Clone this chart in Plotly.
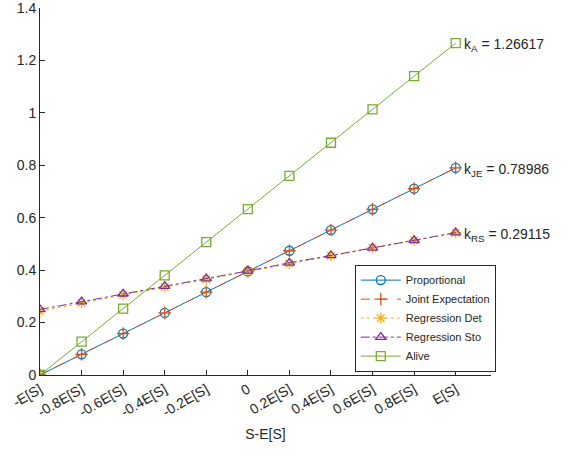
import plotly.graph_objects as go

# x positions (multiples of E[S]) and tick labels
x_vals = [-1.0, -0.8, -0.6, -0.4, -0.2, 0.0, 0.2, 0.4, 0.6, 0.8, 1.0]
tick_labels = ['-E[S]', '-0.8E[S]', '-0.6E[S]', '-0.4E[S]', '-0.2E[S]', '0',
               '0.2E[S]', '0.4E[S]', '0.6E[S]', '0.8E[S]', 'E[S]']

# series values
proportional = [0.0, 0.079, 0.158, 0.237, 0.316, 0.395, 0.474, 0.553, 0.632, 0.711, 0.790]
joint_expectation = [0.0, 0.079, 0.158, 0.237, 0.316, 0.395, 0.474, 0.553, 0.632, 0.711, 0.790]
regression_det = [0.243, 0.275, 0.305, 0.335, 0.365, 0.395, 0.425, 0.455, 0.485, 0.514, 0.543]
regression_sto = [0.250, 0.280, 0.310, 0.339, 0.368, 0.397, 0.428, 0.456, 0.485, 0.514, 0.543]
alive = [0.0, 0.127, 0.253, 0.380, 0.507, 0.633, 0.760, 0.886, 1.013, 1.140, 1.266]

y_ticks = [0, 0.2, 0.4, 0.6, 0.8, 1.0, 1.2, 1.4]
y_tick_labels = ['0', '0.2', '0.4', '0.6', '0.8', '1', '1.2', '1.4']

k_labels = ['k<sub>A</sub> = 1.26617', 'k<sub>JE</sub> = 0.78986', 'k<sub>RS</sub> = 0.29115']

FONT = 'Liberation Sans, Arial, sans-serif'
TXT = '#262626'

fig = go.Figure()

series = [
    ('Proportional', proportional, '#0072BD', 'solid', 'circle-open'),
    ('Joint Expectation', joint_expectation, '#D95319', 'dash', 'cross-thin-open'),
    ('Regression Det', regression_det, '#EDB120', 'dot', 'asterisk-open'),
    ('Regression Sto', regression_sto, '#7E2F8E', 'dashdot', 'triangle-up-open'),
    ('Alive', alive, '#77AC30', 'solid', 'square-open'),
]

for name, vals, color, dash, symbol in series:
    fig.add_trace(go.Scatter(
        x=x_vals,
        y=vals,
        mode='lines+markers',
        name=name,
        line=dict(color=color, width=1, dash=dash),
        marker=dict(symbol=symbol, size=9, color=color,
                    line=dict(color=color, width=1.3)),
    ))

# slope annotations next to the last point of each group
for label, vals in zip(k_labels, [alive, proportional, regression_sto]):
    fig.add_annotation(
        x=x_vals[-1], y=vals[-1], text=label,
        xanchor='left', yanchor='middle', xshift=6, yshift=-2, showarrow=False,
        font=dict(family=FONT, size=14, color=TXT),
    )

fig.update_layout(
    width=570, height=457,
    margin=dict(l=40, r=79, t=8, b=82),
    paper_bgcolor='white',
    plot_bgcolor='white',
    font=dict(family=FONT, size=12, color=TXT),
    showlegend=True,
    legend=dict(
        x=0.698, y=0.155, xanchor='left', yanchor='middle',
        bgcolor='white', bordercolor='#262626', borderwidth=1,
        font=dict(family=FONT, size=11, color=TXT),
        tracegroupgap=0, itemwidth=40,
    ),
    xaxis=dict(
        range=[-1.0, 1.17],
        automargin=False,
        tickmode='array', tickvals=x_vals, ticktext=tick_labels,
        tickangle=-30, ticklabeloverflow='allow',
        ticks='inside', ticklen=5, tickcolor='#262626',
        showline=True, linecolor='#262626', linewidth=1,
        showgrid=False, zeroline=False,
        title=dict(text='S-E[S]', font=dict(size=14, color=TXT), standoff=10),
        tickfont=dict(size=14, color=TXT),
    ),
    yaxis=dict(
        range=[0, 1.4001],
        automargin=False,
        tickmode='array', tickvals=y_ticks, ticktext=y_tick_labels,
        ticklabeloverflow='allow',
        ticks='inside', ticklen=5, tickcolor='#262626',
        showline=True, linecolor='#262626', linewidth=1,
        showgrid=False, zeroline=False,
        tickfont=dict(size=14, color=TXT),
    ),
)

# drop the browser's default 8px body margin so the figure sits at the page corner
fig.write_html("out.html", config={'displayModeBar': False},
               post_script="document.body.style.margin = '0';")
